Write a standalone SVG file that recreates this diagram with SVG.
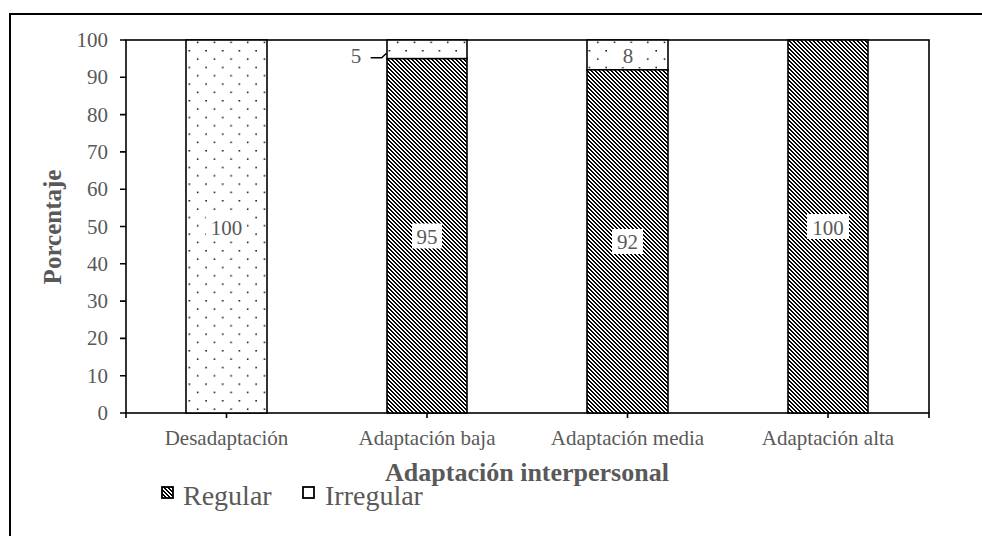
<svg xmlns="http://www.w3.org/2000/svg" width="982" height="536" viewBox="0 0 982 536">
<style>
.t{font-family:"Liberation Serif","Times New Roman",serif;fill:#595959}
.tick{font-size:21px;text-anchor:end}
.cat{font-size:21px;text-anchor:middle}
.lbl{font-size:21px;text-anchor:middle}
.ttl{font-size:25px;font-weight:bold;text-anchor:middle}
.leg{font-size:28px}
.ax{stroke:#000;stroke-width:1.6;fill:none}
.bar{stroke:#000;stroke-width:1.6}
.box{fill:#fff}
</style>
<defs>
<pattern id="hatch" patternUnits="userSpaceOnUse" x="0" y="0" width="4" height="4">
<rect x="0" y="0" width="4" height="4" fill="#fff"/>
<path d="M0,0h2v1h-2zM1,1h2v1h-2zM2,2h2v1h-2zM3,3h1v1h-1zM0,3h1v1h-1z" fill="#000" shape-rendering="crispEdges"/>
</pattern>
<pattern id="dots" patternUnits="userSpaceOnUse" width="16.67" height="16.67">
<rect x="0" y="0" width="16.67" height="16.67" fill="#fff"/>
<rect x="5.3" y="0" width="1.5" height="1.5" fill="#000"/>
<rect x="13.6" y="8.33" width="1.5" height="1.5" fill="#000"/>
</pattern>
</defs>
<rect x="0" y="0" width="982" height="536" fill="#fff"/>
<g id="frame">
<path d="M10,536 V14 H982" fill="none" stroke="#000" stroke-width="2"/>
</g>
<g id="axes">
<rect x="126" y="40" width="803" height="373" class="ax"/>
<path class="ax" d="M120,40H126M120,77.3H126M120,114.6H126M120,151.9H126M120,189.2H126M120,226.5H126M120,263.8H126M120,301.1H126M120,338.4H126M120,375.7H126M120,413H126"/>
<path class="ax" d="M126,413V418M226.5,413V418M427,413V418M627.5,413V418M828,413V418M929,413V418"/>
<g class="t tick">
<text x="108" y="47">100</text>
<text x="108" y="84.3">90</text>
<text x="108" y="121.6">80</text>
<text x="108" y="158.9">70</text>
<text x="108" y="196.2">60</text>
<text x="108" y="233.5">50</text>
<text x="108" y="270.8">40</text>
<text x="108" y="308.1">30</text>
<text x="108" y="345.4">20</text>
<text x="108" y="382.7">10</text>
<text x="108" y="420">0</text>
</g>
<g class="t cat">
<text x="226.5" y="445">Desadaptación</text>
<text x="427" y="445">Adaptación baja</text>
<text x="627.5" y="445">Adaptación media</text>
<text x="828" y="445">Adaptación alta</text>
</g>
<text class="t ttl" transform="translate(61,227) rotate(-90)">Porcentaje</text>
<text class="t ttl" x="527" y="481" style="font-size:26px">Adaptación interpersonal</text>
</g>
<g id="bar-desadaptacion">
<rect class="bar" x="186" y="40" width="81" height="373" fill="url(#dots)"/>
<rect class="box" x="206" y="214" width="41" height="25"/>
<text class="t lbl" x="226.5" y="234.5">100</text>
</g>
<g id="bar-baja">
<rect class="bar" x="387" y="40" width="80" height="18.7" fill="url(#dots)"/>
<rect class="bar" x="387" y="58.7" width="80" height="354.3" fill="url(#hatch)"/>
<rect class="box" x="412" y="223.5" width="30" height="25"/>
<text class="t lbl" x="427" y="243.5">95</text>
<text class="t lbl" x="356" y="63">5</text>
</g>
<g id="bar-media">
<rect class="bar" x="587" y="40" width="81" height="29.8" fill="url(#dots)"/>
<rect class="bar" x="587" y="69.8" width="81" height="343.2" fill="url(#hatch)"/>
<rect class="box" x="612" y="229" width="31" height="25"/>
<text class="t lbl" x="627.5" y="249">92</text>
<rect class="box" x="613" y="43" width="30" height="24"/>
<text class="t lbl" x="628" y="63">8</text>
</g>
<g id="bar-alta">
<rect class="bar" x="788" y="40" width="80" height="373" fill="url(#hatch)"/>
<rect class="box" x="807" y="214" width="42" height="25"/>
<text class="t lbl" x="828" y="235">100</text>
</g>
<g id="connectors">
<path d="M370.7,57.7H381.7L386.5,53.3" fill="none" stroke="#000" stroke-width="1.5"/>
</g>
<g id="legend">
<rect x="162" y="487" width="11" height="11" fill="url(#hatch)" stroke="#000" stroke-width="1.8"/>
<text class="t leg" x="183" y="505">Regular</text>
<rect x="303" y="487" width="11" height="11" fill="#fff" stroke="#000" stroke-width="1.8"/>
<text class="t leg" x="325" y="505">Irregular</text>
</g>
</svg>
